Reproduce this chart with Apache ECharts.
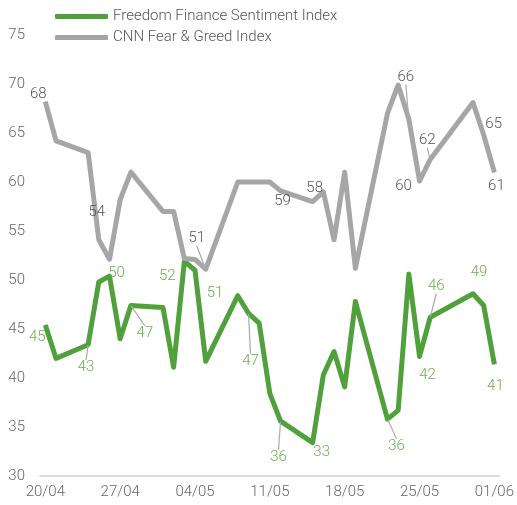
<!DOCTYPE html>
<html>
<head>
<meta charset="utf-8">
<script src="https://cdn.jsdelivr.net/npm/echarts@6/dist/echarts.min.js"></script>
<style>
  html, body { margin: 0; padding: 0; background: #fff; }
  #chart { width: 517px; height: 505px; }
</style>
</head>
<body>
<div id="chart"></div>
<script>
const days = [
  '20/04', '21/04', '22/04', '23/04', '24/04', '25/04', '26/04', '27/04', '28/04', '29/04', '30/04',
  '01/05', '02/05', '03/05', '04/05', '05/05', '06/05', '07/05', '08/05', '09/05', '10/05',
  '11/05', '12/05', '13/05', '14/05', '15/05', '16/05', '17/05', '18/05', '19/05', '20/05',
  '21/05', '22/05', '23/05', '24/05', '25/05', '26/05', '27/05', '28/05', '29/05', '30/05',
  '31/05', '01/06'
]

// null = no reading that day
const freedomIndex = [
  45.4, 42.0, null, null, 43.4, 49.8, 50.4, 44.0, 47.4, null, null,
  47.2, 41.1, 51.9, 51.0, 41.7, null, null, 48.4, 46.6, 45.6,
  38.4, 35.6, null, null, 33.4, 40.3, 42.7, 39.1, 47.8, null,
  null, 35.8, 36.7, 50.6, 42.2, 46.2, null, null, null, 48.6,
  47.4, 41.4
]

const fearGreed = [
  68.2, 64.2, null, null, 63.0, 54.1, 52.1, 58.2, 61.0, null, null,
  57.0, 57.0, 52.2, 52.1, 51.1, null, null, 60.0, 60.0, 60.0,
  60.0, 59.1, null, null, 58.0, 59.0, 54.1, 61.0, 51.2, null,
  null, 67.0, 69.9, 66.4, 60.1, 62.3, null, null, null, 68.1,
  64.8, 61.0
]

// which points carry a value label: index -> [dx, dy, leader line]
const freedomLabels = {
  0: [-8, 12, false], 4: [-2, 23, true], 6: [7, -3, false], 8: [14, 28, true],
  13: [-17, 15, false], 14: [20, 23, false], 19: [2, 48, true], 22: [-2, 36, true],
  25: [9, 10, false], 32: [9, 27, true], 35: [8, 19, false], 36: [6, -31, true],
  40: [6, -21, false], 42: [1, 22, false]
}
const fearLabels = {
  0: [-7, -7, false], 5: [-2, -28, false], 15: [-9, -31, true], 22: [2, 10, false],
  25: [2, -13, false], 34: [-3, -42, true], 35: [-16, 5, false], 36: [-3, -19, true],
  41: [10, -11, false], 42: [2, 14, false]
}

const green = '#50a03c'
const greenText = '#6aae4e'
const grey = '#a6a6a6'
const font = 'Roboto, "Liberation Sans", sans-serif'

function withLabels (values, labels, color) {
  return values.map((v, i) => {
    if (v === null) return null
    const l = labels[i]
    return {
      value: v,
      label: { show: !!l, color: color },
      labelLine: { show: !!(l && l[2]) }
    }
  })
}

function makeSeries (name, values, labels, lineColor, textColor) {
  return {
    name: name,
    type: 'line',
    data: withLabels(values, labels, textColor),
    connectNulls: true,
    symbol: 'circle',
    symbolSize: 1,
    showSymbol: true,
    itemStyle: { color: lineColor },
    lineStyle: { color: lineColor, width: 5, join: 'round' },
    label: {
      position: 'inside',
      fontFamily: font,
      fontWeight: 300,
      fontSize: 15,
      formatter: p => Math.round(p.value)
    },
    labelLine: { show: true, lineStyle: { color: '#aaa', width: 1.2 } },
    labelLayout: p => {
      const l = labels[p.dataIndex]
      return l ? { dx: l[0], dy: l[1] } : {}
    },
    emphasis: { disabled: true },
    animation: false
  }
}

const chart = echarts.init(document.getElementById('chart'))
chart.setOption({
  animation: false,
  legend: {
    orient: 'vertical',
    left: 50,
    top: 4,
    itemWidth: 53,
    itemHeight: 5,
    itemGap: 6,
    icon: 'roundRect',
    textStyle: { color: '#555', fontSize: 15, fontFamily: font, fontWeight: 300, padding: [0, 0, 0, 0] },
    data: ['Freedom Finance Sentiment Index', 'CNN Fear & Greed Index']
  },
  grid: { left: 40, right: 17, top: 35, bottom: 29, containLabel: false },
  xAxis: {
    type: 'category',
    data: days,
    boundaryGap: true,
    axisLine: { lineStyle: { color: '#d0d0d0', width: 1.5 } },
    axisTick: { interval: 6, length: 5, lineStyle: { color: '#d0d0d0' } },
    axisLabel: { interval: 6, color: '#666', fontSize: 15, fontFamily: font, fontWeight: 300, margin: 9 },
    splitLine: { show: false }
  },
  yAxis: {
    type: 'value',
    min: 30,
    max: 75,
    interval: 5,
    axisLine: { show: false },
    axisTick: { show: false },
    splitLine: { show: false },
    axisLabel: { color: '#666', fontSize: 15, fontFamily: font, fontWeight: 300, margin: 15 }
  },
  series: [
    makeSeries('Freedom Finance Sentiment Index', freedomIndex, freedomLabels, green, greenText),
    makeSeries('CNN Fear & Greed Index', fearGreed, fearLabels, grey, '#555')
  ]
})
</script>
</body>
</html>
